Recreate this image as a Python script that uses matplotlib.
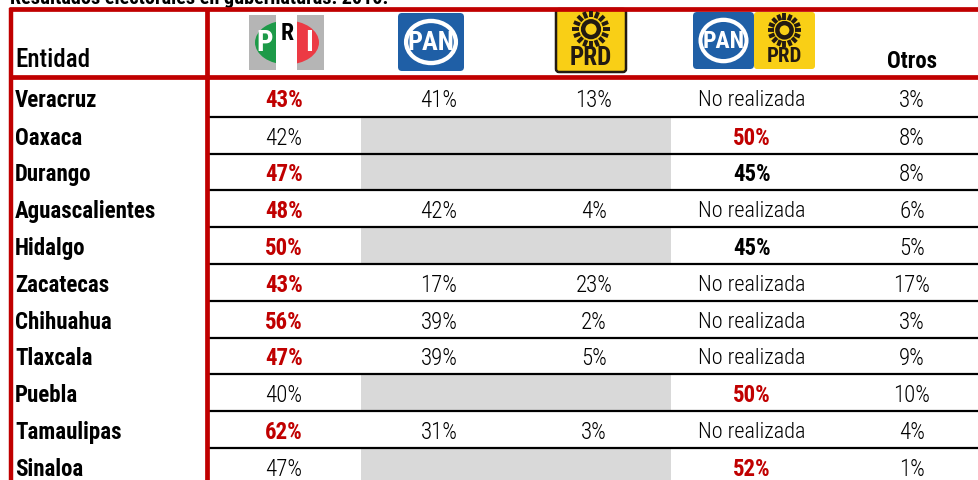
import matplotlib
matplotlib.use("Agg")
import matplotlib.pyplot as plt
from matplotlib import font_manager
from matplotlib.patches import Rectangle, Ellipse, FancyBboxPatch, Circle
import numpy as np

# ---------------- data ----------------
entidades = ["Veracruz", "Oaxaca", "Durango", "Aguascalientes", "Hidalgo",
             "Zacatecas", "Chihuahua", "Tlaxcala", "Puebla", "Tamaulipas", "Sinaloa"]
pri = [43, 42, 47, 48, 50, 43, 56, 47, 40, 62, 47]
pan = [41, None, None, 42, None, 17, 39, 39, None, 31, None]
prd = [13, None, None, 4, None, 23, 2, 5, None, 3, None]
alianza = [None, 50, 45, None, 45, None, None, None, 50, None, 52]
otros = [3, 8, 8, 6, 5, 17, 3, 9, 10, 4, 1]
titulo = "Resultados electorales en gubernaturas: 2010."
encabezado_entidad = "Entidad"
encabezado_otros = "Otros"
texto_no_realizada = "No realizada"

# ---------------- fonts ----------------
available = {f.name for f in font_manager.fontManager.ttflist}
narrow = None
for cand in ["Roboto Condensed", "Liberation Sans Narrow", "Open Sans Condensed",
             "Noto Sans Condensed", "DejaVu Sans Condensed"]:
    if cand in available:
        narrow = cand
        break
if narrow is None:
    narrow = "DejaVu Sans"
FONT = [narrow, "DejaVu Sans"]

RED = "#C00000"
GREY = "#D9D9D9"
DARK = "#231a12"

fig = plt.figure(figsize=(9.79, 4.8), dpi=100)
ax = fig.add_axes([0, 0, 1, 1])
ax.set_xlim(0, 979)
ax.set_ylim(480, 0)
ax.axis("off")

# layout
col_edges = [207, 361, 516, 671, 833, 979]
col_centers = [284, 439, 594, 752, 912]
header_top, header_bot = 9, 77
row_top0 = 79
first_line = 116.7
row_h = 36.8
n = len(entidades)
row_bounds = [row_top0] + [first_line + row_h * k for k in range(n)]

FS = 16.5

# title (partially cut off at top, as in the reference)
ax.text(10, 4.5, titulo, fontsize=14.5, fontweight="bold", family=FONT,
        va="baseline", ha="left", color="black")

# grey cells and text
for i, ent in enumerate(entidades):
    y0, y1 = row_bounds[i], row_bounds[i + 1]
    yc = (y0 + y1) / 2 + 3
    if pan[i] is None:
        ax.add_patch(Rectangle((col_edges[1], y0), col_edges[3] - col_edges[1], y1 - y0,
                               facecolor=GREY, edgecolor="none", zorder=0))
    ax.text(15, yc, ent, fontsize=FS, fontweight="bold", family=FONT,
            va="center", ha="left", color="black")
    vals = [pri[i], pan[i], prd[i], alianza[i], otros[i]]
    nums = [v for v in vals if v is not None]
    mx = max(nums)
    for j, v in enumerate(vals):
        if v is None:
            if j == 3:
                ax.text(col_centers[j], yc, texto_no_realizada, fontsize=FS - 0.5,
                        fontweight="light", family=FONT, va="center", ha="center",
                        color="black")
            continue
        if v == mx and j in (0, 3):
            color, weight = RED, "bold"
        elif j == 3:
            color, weight = "black", "bold"
        else:
            color, weight = "black", "light"
        ax.text(col_centers[j], yc, f"{v}%", fontsize=FS, fontweight=weight,
                family=FONT, va="center", ha="center", color=color)

# black row separators
for k in range(1, n + 1):
    y = row_bounds[k]
    ax.plot([col_edges[0] + 2, 979], [y, y], color="black", lw=1.6,
            solid_capstyle="butt", zorder=3)

# red frame lines
ax.plot([9, 979], [header_top, header_top], color=RED, lw=3.4, solid_capstyle="butt", zorder=4)
ax.plot([9, 979], [header_bot, header_bot], color=RED, lw=3.4, solid_capstyle="butt", zorder=4)
ax.plot([11, 11], [header_top - 1.5, 480], color=RED, lw=3.2, solid_capstyle="butt", zorder=4)
ax.plot([207, 207], [header_top - 1.5, 480], color=RED, lw=3.4, solid_capstyle="butt", zorder=4)

# headers
ax.text(15, 60, encabezado_entidad, fontsize=18, family=FONT, fontweight="medium",
        va="center", ha="left", color="black")
ax.text(col_centers[4], 61, encabezado_otros, fontsize=FS, family=FONT,
        fontweight="bold", va="center", ha="center", color="black")

# ---- logos ----
def clip_rect(patch, x, y, w, h):
    r = Rectangle((x, y), w, h, transform=ax.transData)
    patch.set_clip_path(r)

# PRI
ax.add_patch(Rectangle((249, 15), 27, 55, facecolor="#b5b5b5", edgecolor="none", zorder=2))
ax.add_patch(Rectangle((297, 15), 27, 55, facecolor="#b5b5b5", edgecolor="none", zorder=2))
eg = Ellipse((287, 42.5), 64, 44, facecolor="#1d9a48", edgecolor="none", zorder=3)
ax.add_patch(eg); clip_rect(eg, 240, 0, 36.5, 100)
er = Ellipse((287, 42.5), 64, 44, facecolor="#ec3a44", edgecolor="none", zorder=3)
ax.add_patch(er); clip_rect(er, 297, 0, 40, 100)
ax.text(265, 43, "P", fontsize=21, fontweight="heavy", color="white", family=FONT,
        ha="center", va="center", zorder=5)
ax.text(287, 34, "R", fontsize=17, fontweight="heavy", color="black", family=FONT,
        ha="center", va="center", zorder=5)
ax.text(309, 43, "I", fontsize=21, fontweight="heavy", color="white", family=FONT,
        ha="center", va="center", zorder=5)

def pan_logo(x0, y0, w, h, fs):
    ax.add_patch(FancyBboxPatch((x0 + 3, y0 + 3), w - 6, h - 6,
                                boxstyle="round,pad=3,rounding_size=4",
                                facecolor="#1f5fa6", edgecolor="none", zorder=2))
    cx, cy = x0 + w / 2, y0 + h / 2
    ax.add_patch(Ellipse((cx, cy), w * 0.82, h * 0.80, facecolor="white",
                         edgecolor="none", zorder=3))
    ax.add_patch(Ellipse((cx, cy), w * 0.69, h * 0.65, facecolor="#1f5fa6",
                         edgecolor="none", zorder=3))
    ax.text(cx, cy + 1, "PAN", fontsize=fs, fontweight="bold", color="white",
            family=FONT, ha="center", va="center", zorder=5)

def prd_logo(x0, y0, w, h, fs, border=True):
    ax.add_patch(FancyBboxPatch((x0 + 2, y0 + 2), w - 4, h - 4,
                                boxstyle="round,pad=2,rounding_size=3",
                                facecolor="#f9cf16",
                                edgecolor=DARK if border else "none",
                                lw=1.8 if border else 0, zorder=2))
    cx, cy = x0 + w / 2, y0 + h * 0.32
    r = h * 0.125
    ax.add_patch(Circle((cx, cy), r, facecolor="none", edgecolor=DARK,
                        lw=3.2, zorder=4))
    for a in np.linspace(0, 2 * np.pi, 16, endpoint=False):
        ax.plot([cx + np.cos(a) * r * 1.5, cx + np.cos(a) * r * 2.35],
                [cy + np.sin(a) * r * 1.5, cy + np.sin(a) * r * 2.35],
                color=DARK, lw=2.8, solid_capstyle="butt", zorder=4)
    ax.text(cx, y0 + h * 0.78, "PRD", fontsize=fs, fontweight="heavy", color=DARK,
            family=FONT, ha="center", va="center", zorder=5)

pan_logo(398, 13, 66, 58, 19)
prd_logo(556, 9, 70, 63, 18)
pan_logo(693, 12, 61, 57, 17)
prd_logo(754, 12, 61, 57, 15, border=False)

fig.savefig("out.png", dpi=100)
